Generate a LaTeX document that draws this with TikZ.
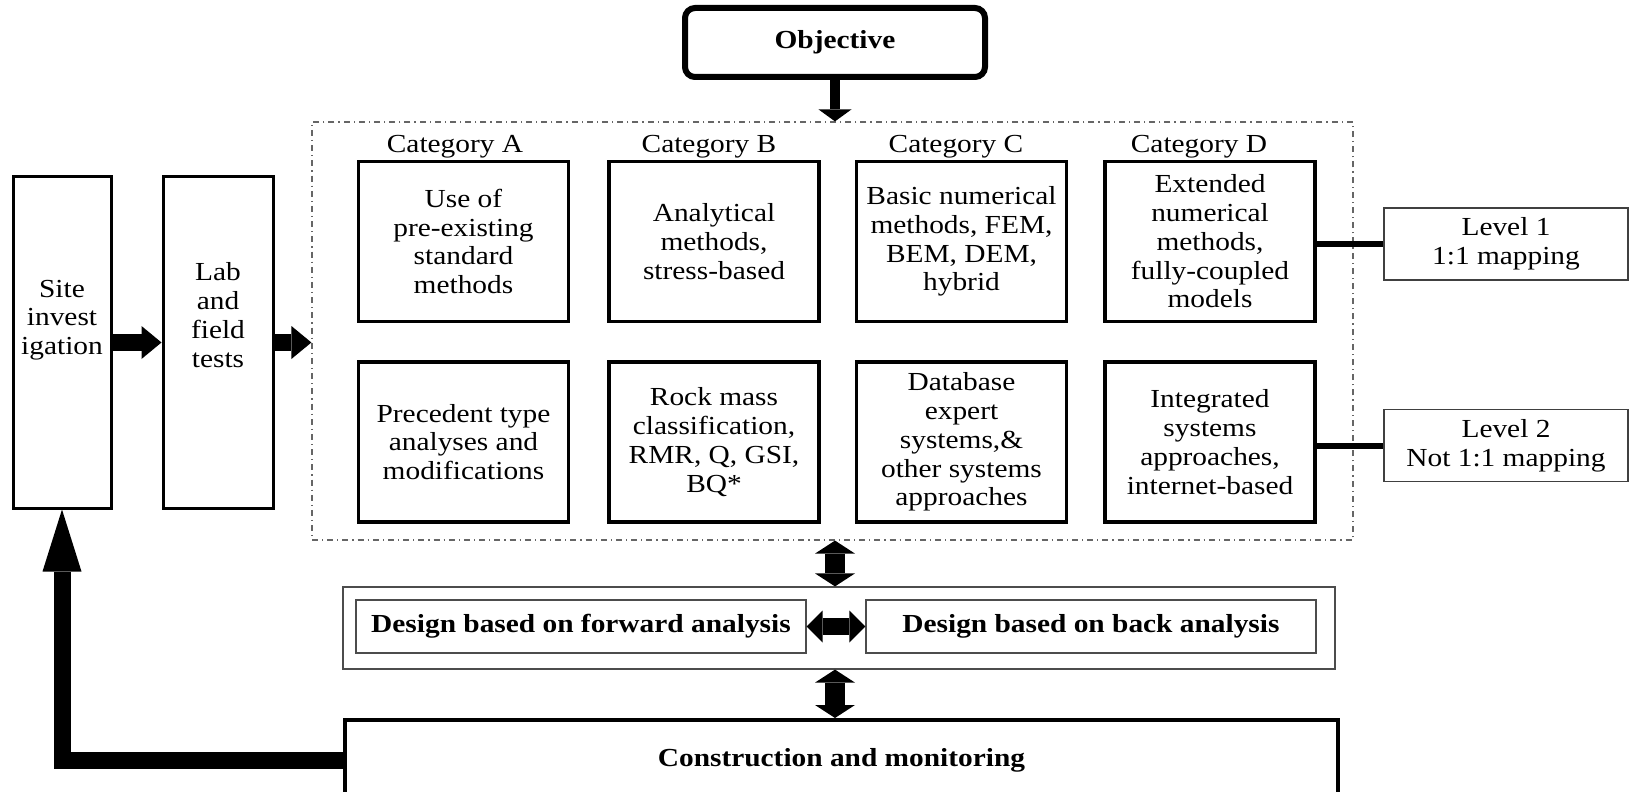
\documentclass[tikz,border=0pt]{standalone}
\usepackage{fontspec}
\setmainfont[FakeStretch=1.13]{Liberation Serif}
\usetikzlibrary{arrows.meta}

\begin{document}
\begin{tikzpicture}[x=0.5pt,y=-0.5pt,
  every node/.style={font=\fontsize{13}{14.4}\selectfont,align=center,inner sep=0pt},
  catbox/.style={draw,line width=1.6pt,minimum width=105pt,minimum height=80pt},
  sidebox/.style={draw,line width=1.5pt,minimum height=165.5pt},
  lvlbox/.style={draw=black!75,line width=0.7pt,minimum width=122pt,minimum height=36pt},
  thinbox/.style={draw=black!70,line width=0.6pt},
  objarrow/.style={line width=5pt,>={Triangle[width=16.5pt,length=6pt,line width=0pt]},->},
  sidearrow/.style={line width=8.5pt,>={Triangle[width=16.5pt,length=10pt,line width=0pt]},->},
  vdouble/.style={line width=10pt,>={Triangle[width=20pt,length=6.5pt,line width=0pt]},<->},
  hdouble/.style={line width=8.5pt,>={Triangle[width=16pt,length=8pt,line width=0pt]},<->},
  retarrow/.style={line width=8.5pt,line join=miter,>={Triangle[width=19.5pt,length=31pt,line width=0pt]},->},
  levelline/.style={line width=3pt}]
\useasboundingbox (0,0) rectangle (1630,792);
% Boxes
\node[draw,line width=3pt,rounded corners=5pt,minimum width=150pt,minimum height=34.5pt,font=\fontsize{13}{14.4}\selectfont\bfseries] (obj) at (835,42.5) {Objective};
\node[draw=black!60,line width=0.6pt,dash dot,minimum width=520.5pt,minimum height=209pt] (frame) at (832.5,331) {};
\node[sidebox,minimum width=49pt] (site) at (62,342.5) {};
\node (sitetext) at (62,320) {Site\\invest\\igation};
\node[sidebox,minimum width=55pt] (lab) at (218,342.5) {};
\node (labtext) at (218,315) {Lab\\and\\field\\tests};
%Categories
\node (ca) at (455,147) {Category A};
\node (cb) at (709,147) {Category B};
\node (cc) at (956,147) {Category C};
\node (cd) at (1199,147) {Category D};
\node[catbox] (a1) at (463.5,241.5) {Use of\\pre-existing\\standard\\methods};
\node[catbox] (b1) at (714,241.5) {Analytical\\methods,\\stress-based};
\node[catbox] (c1) at (961.5,241.5) {Basic numerical\\methods, FEM,\\BEM, DEM,\\hybrid};
\node[catbox] (d1) at (1210,241.5) {Extended\\numerical\\methods,\\fully-coupled\\models};
\node[catbox] (a2) at (463.5,442) {Precedent type\\analyses and\\modifications};
\node[catbox] (b2) at (714,442) {Rock mass\\classification,\\RMR, Q, GSI,\\BQ*};
\node[catbox] (c2) at (961.5,442) {Database\\expert\\systems,\&\\other systems\\approaches};
\node[catbox] (d2) at (1210,442) {Integrated\\systems\\approaches,\\internet-based};
%Levels
\node[lvlbox] (lvl1) at (1506,244) {Level 1\\1:1 mapping};
\node[lvlbox] (lvl2) at (1506,445.5) {Level 2\\Not 1:1 mapping};
%Design
\node[thinbox,minimum width=496pt,minimum height=41pt] (design) at (839,628) {};
\node[thinbox,minimum width=225pt,minimum height=26.5pt,font=\fontsize{13}{14.4}\selectfont\bfseries] (fwd) at (581,626.5) {Design based on forward analysis};
\node[thinbox,minimum width=225pt,minimum height=26.5pt,font=\fontsize{13}{14.4}\selectfont\bfseries] (back) at (1091,626.5) {Design based on back analysis};
\node[draw,line width=2pt,minimum width=496.5pt,minimum height=40pt,font=\fontsize{13}{14.4}\selectfont\bfseries] (build) at (841.5,760) {Construction and monitoring};
%Arrows
\draw[objarrow] (obj.south) -- (obj.south |- frame.north);
\draw[sidearrow] (site.east) -- (lab.west);
\draw[sidearrow] (lab.east) -- (lab.east -| frame.west);
\draw[vdouble] (obj.south |- frame.south) -- (obj.south |- design.north);
\draw[vdouble] (obj.south |- design.south) -- (obj.south |- build.north);
\draw[hdouble] (fwd.east) -- (back.west);
\draw[retarrow] (build.west) -| (site.south);
\draw[levelline] (d1.east |- lvl1.west) -- (lvl1.west);
\draw[levelline] (d2.east |- lvl2.west) -- (lvl2.west);
\end{tikzpicture}
\end{document}
